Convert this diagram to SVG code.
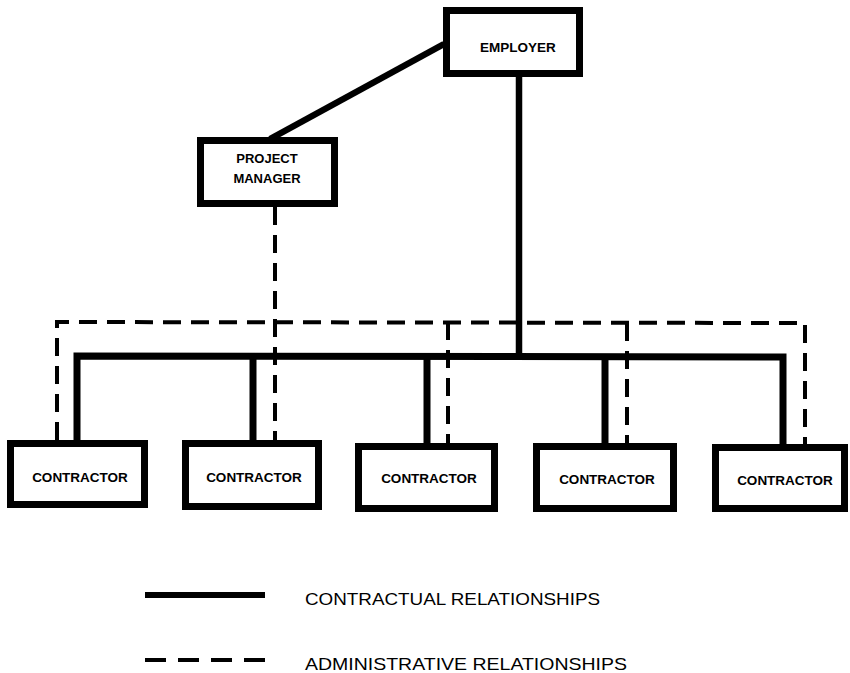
<svg xmlns="http://www.w3.org/2000/svg" width="850" height="673" viewBox="0 0 850 673">
<style>
.box{fill:#fff;stroke:#000;stroke-width:7}
.lbl{font-family:"Liberation Sans",Arial,sans-serif;font-weight:bold;font-size:13.5px;text-anchor:middle;fill:#000}
.solid{stroke:#000;stroke-width:7;fill:none;stroke-linejoin:miter;stroke-linecap:square}
.dash{stroke:#000;stroke-width:4;fill:none;stroke-dasharray:18 10}
.leg{font-family:"Liberation Sans",Arial,sans-serif;font-size:17px;fill:#000}
</style>
<rect width="850" height="673" fill="#fff"/>
<g id="connectors">
<line class="solid" x1="270" y1="139" x2="444" y2="44" style="stroke-width:6.5;stroke-linecap:butt"/>
<line class="solid" x1="519" y1="77" x2="519" y2="356" style="stroke-width:6.5;stroke-linecap:butt"/>
<polyline class="solid" points="77,441 77,356 783,357 783,444" style="stroke-linecap:butt"/>
<line class="solid" x1="253" y1="356" x2="253" y2="441" style="stroke-linecap:butt"/>
<line class="solid" x1="427" y1="356" x2="427" y2="444" style="stroke-linecap:butt"/>
<line class="solid" x1="605" y1="357" x2="605" y2="444" style="stroke-linecap:butt"/>
<polyline class="dash" points="57,440 57,322 805,323 805,444"/>
<line class="dash" x1="275" y1="207" x2="275" y2="440"/>
<line class="dash" x1="448" y1="322" x2="448" y2="443"/>
<line class="dash" x1="627" y1="323" x2="627" y2="443"/>
</g>
<g id="employer">
<rect class="box" x="446.5" y="10.5" width="133" height="63"/>
<text class="lbl" x="518" y="52">EMPLOYER</text>
</g>
<g id="project-manager">
<rect class="box" x="200.5" y="140.5" width="134" height="63"/>
<text class="lbl" x="267" y="163" style="font-size:13px">PROJECT</text>
<text class="lbl" x="267" y="183" style="font-size:13px">MANAGER</text>
</g>
<g id="contractor-1">
<rect class="box" x="10.5" y="443.5" width="134" height="61"/>
<text class="lbl" x="80" y="482">CONTRACTOR</text>
</g>
<g id="contractor-2">
<rect class="box" x="185.5" y="443.5" width="133" height="63"/>
<text class="lbl" x="254" y="482">CONTRACTOR</text>
</g>
<g id="contractor-3">
<rect class="box" x="358.5" y="446.5" width="136" height="62"/>
<text class="lbl" x="429" y="483">CONTRACTOR</text>
</g>
<g id="contractor-4">
<rect class="box" x="536.5" y="446.5" width="137" height="62"/>
<text class="lbl" x="607" y="484">CONTRACTOR</text>
</g>
<g id="contractor-5">
<rect class="box" x="715.5" y="447.5" width="129" height="61"/>
<text class="lbl" x="785" y="485">CONTRACTOR</text>
</g>
<g id="legend">
<line x1="145" y1="595" x2="265" y2="595" stroke="#000" stroke-width="6"/>
<text class="leg" x="305" y="605" textLength="295" lengthAdjust="spacingAndGlyphs">CONTRACTUAL RELATIONSHIPS</text>
<line x1="145" y1="660" x2="265" y2="660" stroke="#000" stroke-width="4" stroke-dasharray="21 12"/>
<text class="leg" x="305" y="670" textLength="322" lengthAdjust="spacingAndGlyphs">ADMINISTRATIVE RELATIONSHIPS</text>
</g>
</svg>
